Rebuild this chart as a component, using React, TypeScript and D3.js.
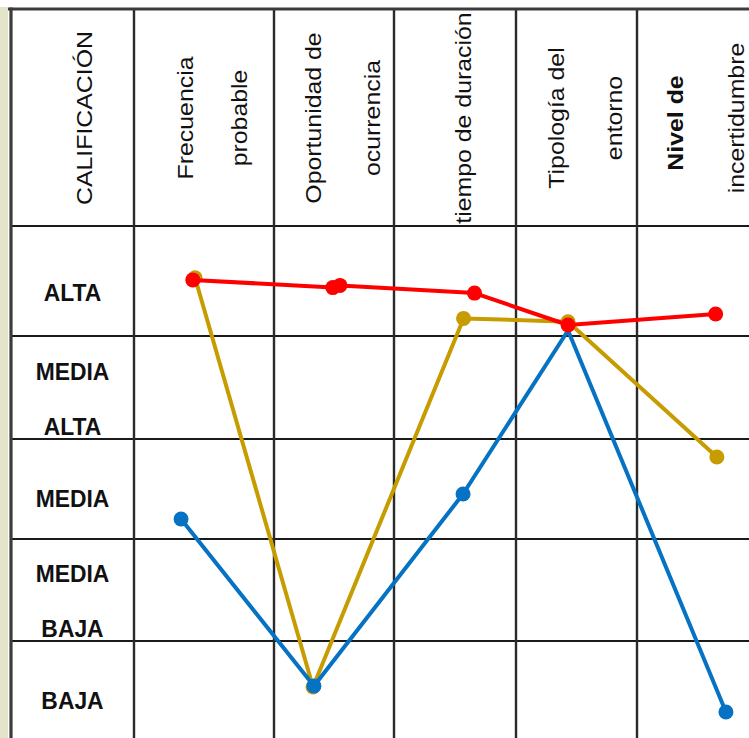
import * as d3 from 'd3';

const W = 749;
const H = 738;

// rows of the table (top to bottom) and the header cells
const headerTitle = 'CALIFICACIÓN';
const ratingLines = [['ALTA'], ['MEDIA', 'ALTA'], ['MEDIA'], ['MEDIA', 'BAJA'], ['BAJA']];
const criteriaLines = [
  ['Frecuencia', 'probable'],
  ['Oportunidad de', 'ocurrencia'],
  ['tiempo de duración'],
  ['Tipología del', 'entorno'],
  ['Nivel de', 'incertidumbre'],
];

// series: position across the criteria columns (0..5) and score (0 = BAJA bottom, 5 = ALTA top)
const redPos = [0.42, 1.49, 1.55, 2.66, 3.43, 4.65];
const redScore = [4.51, 4.44, 4.46, 4.39, 4.1, 4.2];
const goldPos = [0.436, 1.325, 2.57, 3.43, 4.66];
const goldScore = [4.53, 0.54, 4.16, 4.13, 2.82];
const bluePos = [0.336, 1.333, 2.566, 3.43, 4.735];
const blueScore = [2.2, 0.55, 2.45, 4.05, 0.29];
const blueMarks = [true, true, true, false, true];

// column / row edges (hand-drawn table, so not uniform)
const x = d3.scaleLinear().domain([-1, 0, 1, 2, 3, 4, 5]).range([11, 134, 274, 394, 516, 637, 758]);
const y = d3.scaleLinear().domain([0, 1, 2, 3, 4, 5, 6]).range([741, 641, 539, 439, 336, 226, 9]);

// header baselines as a share of the column width
const headerBase = [[0.42, 0.81], [0.39, 0.88], [0.63], [0.4, 0.875], [0.38, 0.885]];

const font = '"Liberation Sans", Arial, sans-serif';

const line = d3
  .line<[number, number]>()
  .x((d) => x(d[0]))
  .y((d) => y(d[1]));

function Series({ pos, score, color, marks }: { pos: number[]; score: number[]; color: string; marks?: boolean[] }) {
  const pts = pos.map((p, i) => [p, score[i]] as [number, number]);
  return (
    <g>
      <path d={line(pts) ?? ''} fill="none" stroke={color} strokeWidth={4} strokeLinejoin="round" />
      {pts.map((d, i) =>
        marks && !marks[i] ? null : <circle key={i} cx={x(d[0])} cy={y(d[1])} r={7.5} fill={color} />
      )}
    </g>
  );
}

function HeaderText({ text, bx, cy, bold }: { text: string; bx: number; cy: number; bold?: boolean }) {
  return (
    <text
      transform={`translate(${bx},${cy}) rotate(-90) scale(1.13,1)`}
      textAnchor="middle"
      fontFamily={font}
      fontSize={22}
      fontWeight={bold ? 'bold' : 'normal'}
      fill="#111"
    >
      {text}
    </text>
  );
}

export default function App() {
  const headerMid = (y(6) + y(5)) / 2 + 0.5;
  const rows = d3.range(5).map((i) => ({ top: y(5 - i), bottom: y(4 - i) }));

  return (
    <div style={{ position: 'absolute', left: 0, top: 0 }}>
      <svg width={W} height={H} viewBox={`0 0 ${W} ${H}`} style={{ display: 'block' }}>
        <rect width={W} height={H} fill="#fff" />
        <rect x={0} y={7} width={8} height={H - 7} fill="#e3e4c9" />

        {/* grid */}
        {d3.range(0, 6).map((i) => (
          <line key={'h' + i} x1={x(-1)} x2={W} y1={y(i)} y2={y(i)} stroke="#1a1a1a" strokeWidth={2.2} />
        ))}
        {d3.range(0, 5).map((i) => (
          <line key={'v' + i} x1={x(i)} x2={x(i)} y1={y(6)} y2={H} stroke="#2a2a2a" strokeWidth={2.4} />
        ))}
        <line x1={8} x2={W} y1={y(6)} y2={y(6)} stroke="#3c3c3c" strokeWidth={3.2} />
        <line x1={x(-1)} x2={x(-1)} y1={7.5} y2={H} stroke="#3c3c3c" strokeWidth={3.2} />

        {/* header */}
        <HeaderText text={headerTitle} bx={x(-1) + 0.66 * (x(0) - x(-1))} cy={headerMid} />
        {criteriaLines.map((lines, c) =>
          lines.map((t, j) => (
            <HeaderText
              key={c + '-' + j}
              text={t}
              bx={x(c) + headerBase[c][j] * (x(c + 1) - x(c))}
              cy={headerMid + (c === 4 && j === 0 ? 5 : 0)}
              bold={c === 4 && j === 0}
            />
          ))
        )}

        {/* rating labels */}
        {ratingLines.map((lines, r) => {
          const { top, bottom } = rows[r];
          const h = bottom - top;
          const shares = lines.length === 1 ? [0.68] : [0.425, 0.96];
          return lines.map((t, j) => (
            <text
              key={r + '-' + j}
              transform={`translate(${(x(-1) + x(0)) / 2},${top + shares[j] * h}) scale(1.04,1.12)`}
              textAnchor="middle"
              fontFamily={font}
              fontSize={22}
              fontWeight="bold"
              fill="#111"
            >
              {t}
            </text>
          ));
        })}

        <Series pos={goldPos} score={goldScore} color="#c69c00" />
        <Series pos={bluePos} score={blueScore} color="#0572c4" marks={blueMarks} />
        <Series pos={redPos} score={redScore} color="#ff0000" />
      </svg>
    </div>
  );
}
